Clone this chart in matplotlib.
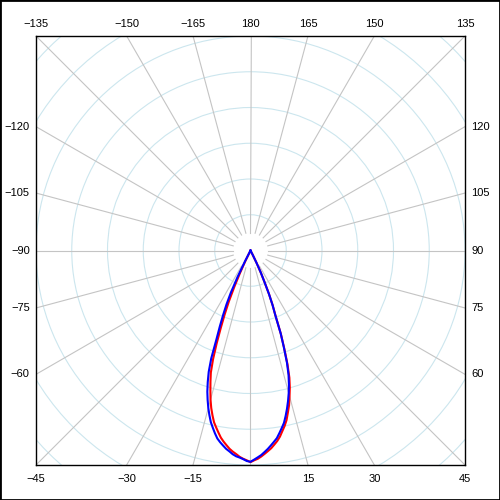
import numpy as np
import matplotlib as mpl
import matplotlib.pyplot as plt
from matplotlib.patches import Circle, Rectangle

mpl.use('Agg')
plt.rcParams['font.family'] = ['Liberation Sans', 'DejaVu Sans']

# angles in degrees, 0 = straight down, positive towards the right
angulos = list(range(-28, 29))

intensidade_azul = [
    0.0, 3.3, 8.4, 13.0, 16.5, 19.6, 22.9, 26.5, 32.1, 35.9,
    38.7, 41.3, 43.5, 45.6, 47.5, 49.3, 50.7, 52.1, 53.4, 54.3,
    55.1, 55.9, 56.5, 57.2, 57.7, 58.0, 58.4, 58.9,
    59.1,
    58.5, 57.9, 57.3, 56.5, 55.7, 54.8, 53.9, 53.0, 51.7, 50.4,
    49.1, 47.3, 45.4, 43.4, 41.3, 39.0, 36.4, 33.0, 28.7, 24.7,
    19.3, 16.5, 13.2, 9.4, 6.8, 3.9, 1.4, 0.0,
]

intensidade_vermelha = [
    0.0, 0.0, 3.3, 7.0, 11.1, 15.5, 19.3, 23.2, 27.7, 32.2,
    35.9, 38.3, 40.7, 43.2, 45.4, 47.3, 49.1, 50.4, 51.7, 53.0,
    54.0, 54.9, 55.8, 56.5, 57.1, 57.8, 58.3, 58.7,
    59.2,
    58.7, 58.3, 57.7, 57.0, 56.3, 55.6, 54.7, 53.8, 52.7, 51.3,
    50.0, 48.5, 46.5, 44.6, 42.2, 39.9, 37.2, 33.5, 29.0, 24.8,
    19.5, 16.6, 13.3, 9.5, 6.8, 3.9, 1.4, 0.0,
]

angulos_grade = list(range(-165, 195, 15))
raios_grade = [10, 20, 30, 40, 50, 60, 70, 80]
rotulos = [-135, -150, -165, 180, 165, 150, 135,
           -120, -105, -90, -75, -60,
           120, 105, 90, 75, 60,
           -45, -30, -15, 15, 30, 45]

LIM = 60


def polar_xy(theta, r):
    t = np.radians(np.asarray(theta, dtype=float))
    r = np.asarray(r, dtype=float)
    return r * np.sin(t), -r * np.cos(t)


fig = plt.figure(figsize=(5, 5), dpi=100)
ax = fig.add_axes([0.072, 0.07, 0.858, 0.858])
ax.set_xlim(-LIM, LIM)
ax.set_ylim(-LIM, LIM)
ax.set_aspect('equal')
ax.set_xticks([])
ax.set_yticks([])
for s in ax.spines.values():
    s.set_linewidth(1.0)
    s.set_color('black')

for r in raios_grade:
    ax.add_patch(Circle((0, 0), r, fill=False, ec='#cce6ee', lw=0.8, zorder=1))

for a in angulos_grade:
    x, y = polar_xy([a, a], [5, 120])
    ax.plot(x, y, color='#c4c4c4', lw=0.8, zorder=1)

x, y = polar_xy(angulos, intensidade_vermelha)
ax.plot(x, y, color='#ff0000', lw=1.5, zorder=3)
x, y = polar_xy(angulos, intensidade_azul)
ax.plot(x, y, color='#0000ff', lw=1.5, zorder=4)

# labels where each radial line meets the frame
for a in rotulos:
    s, c = np.sin(np.radians(a)), -np.cos(np.radians(a))
    t = LIM / max(abs(s), abs(c))
    px, py = s * t, c * t
    txt = str(a).replace('-', '\u2212')
    if abs(abs(a) - 135) < 1 or abs(a) > 135:
        ax.annotate(txt, (px, LIM), xytext=(0, 5), textcoords='offset points',
                    ha='center', va='bottom', fontsize=8, annotation_clip=False)
    elif abs(abs(a) - 45) < 1 or abs(a) < 45:
        ax.annotate(txt, (px, -LIM), xytext=(0, -6.5), textcoords='offset points',
                    ha='center', va='top', fontsize=8, annotation_clip=False)
    elif a < 0:
        ax.annotate(txt, (-LIM, py), xytext=(-4.5, 0), textcoords='offset points',
                    ha='right', va='center', fontsize=8, annotation_clip=False)
    else:
        ax.annotate(txt, (LIM, py), xytext=(4.5, 0), textcoords='offset points',
                    ha='left', va='center', fontsize=8, annotation_clip=False)

fig.add_artist(Rectangle((0, 0), 1, 1, transform=fig.transFigure,
                         fill=False, ec='black', lw=2))

plt.savefig('out.png', dpi=100)
